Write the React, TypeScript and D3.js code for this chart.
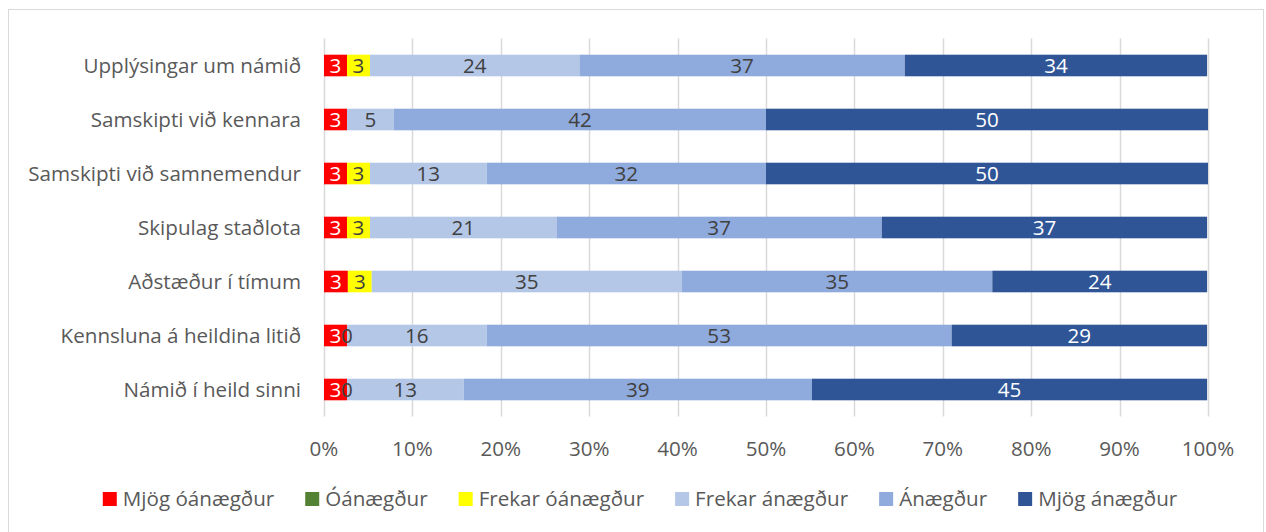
import { useEffect, useRef } from "react";
import * as d3 from "d3";

const categories = [
  "Upplýsingar um námið",
  "Samskipti við kennara",
  "Samskipti við samnemendur",
  "Skipulag staðlota",
  "Aðstæður í tímum",
  "Kennsluna á heildina litið",
  "Námið í heild sinni",
];

const seriesNames = [
  "Mjög óánægður",
  "Óánægður",
  "Frekar óánægður",
  "Frekar ánægður",
  "Ánægður",
  "Mjög ánægður",
];

const seriesColors = ["#ff0000", "#548235", "#ffff00", "#b4c7e7", "#8faadc", "#2f5597"];
const labelColors = ["#ffffff", "#ffffff", "#404040", "#404040", "#404040", "#ffffff"];

// percentages per series, one value per category (null = no data)
const mjogOanaegdur = [2.6, 2.6, 2.6, 2.6, 2.7, 2.6, 2.6];
const oanaegdur: (number | null)[] = [null, null, null, null, null, null, null];
const frekarOanaegdur: (number | null)[] = [2.6, null, 2.6, 2.6, 2.7, 0, 0];
const frekarAnaegdur = [23.7, 5.3, 13.2, 21.1, 35.1, 15.8, 13.2];
const anaegdur = [36.8, 42.1, 31.6, 36.8, 35.1, 52.6, 39.4];
const mjogAnaegdur = [34.2, 50.0, 50.0, 36.8, 24.3, 28.9, 44.7];

const series = [mjogOanaegdur, oanaegdur, frekarOanaegdur, frekarAnaegdur, anaegdur, mjogAnaegdur];
const xTicks = [0, 10, 20, 30, 40, 50, 60, 70, 80, 90, 100];

const FONT = "'Open Sans', sans-serif";
const FS = 20.6;

export default function App() {
  const svgRef = useRef<SVGSVGElement>(null);

  useEffect(() => {
    if (!svgRef.current) return;
    const svg = d3.select(svgRef.current);
    svg.selectAll("*").remove();

    const x = d3.scaleLinear().domain([0, 100]).range([324, 1208]);
    const y = d3.scaleBand<string>().domain(categories).range([38.5, 416.5]).paddingInner(0.6).paddingOuter(0.3);

    // frame
    svg.append("rect").attr("x", 8.5).attr("y", 9.5).attr("width", 1255).attr("height", 530)
      .attr("fill", "#fff").attr("stroke", "#d9d9d9");

    // gridlines
    svg.append("g").selectAll("line").data(xTicks).join("line")
      .attr("x1", (d) => Math.round(x(d)) + 0.5).attr("x2", (d) => Math.round(x(d)) + 0.5)
      .attr("y1", 38.5).attr("y2", 416.5)
      .attr("stroke", "#d9d9d9").attr("stroke-width", 1.5);

    svg.append("g").selectAll("text").data(xTicks).join("text")
      .attr("x", (d) => x(d)).attr("y", 449).attr("dy", "0.35em")
      .attr("text-anchor", "middle").attr("fill", "#595959")
      .attr("font-family", FONT).attr("font-size", FS)
      .text((d) => d + "%");

    // category labels
    svg.append("g").selectAll("text").data(categories).join("text")
      .attr("x", 301).attr("y", (d) => y(d)! + y.bandwidth() / 2).attr("dy", "0.35em")
      .attr("text-anchor", "end").attr("fill", "#595959")
      .attr("font-family", FONT).attr("font-size", FS)
      .text((d) => d);

    // stacked bars
    const cum = categories.map(() => 0);
    const segs: { cat: string; s: number; x0: number; x1: number; v: number }[] = [];
    series.forEach((vals, s) => {
      vals.forEach((v, i) => {
        if (v === null) return;
        segs.push({ cat: categories[i], s, x0: cum[i], x1: cum[i] + v, v });
        cum[i] += v;
      });
    });

    svg.append("g").selectAll("rect").data(segs.filter((d) => d.v > 0)).join("rect")
      .attr("x", (d) => x(d.x0)).attr("width", (d) => x(d.x1) - x(d.x0))
      .attr("y", (d) => y(d.cat)!).attr("height", y.bandwidth())
      .attr("fill", (d) => seriesColors[d.s]);

    svg.append("g").selectAll("text").data(segs).join("text")
      .attr("x", (d) => x((d.x0 + d.x1) / 2)).attr("y", (d) => y(d.cat)! + y.bandwidth() / 2)
      .attr("dy", "0.35em").attr("text-anchor", "middle")
      .attr("fill", (d) => labelColors[d.s])
      .attr("font-family", FONT).attr("font-size", FS)
      .text((d) => d3.format(".0f")(d.v));

    // legend
    const legend = svg.append("g");
    const items = legend.selectAll("g").data(seriesNames).join("g");
    items.append("rect").attr("width", 14).attr("height", 14).attr("y", -7)
      .attr("fill", (_, i) => seriesColors[i]);
    items.append("text").attr("x", 20).attr("dy", "0.35em").attr("fill", "#595959")
      .attr("font-family", FONT).attr("font-size", FS).text((d) => d);
    let pos = 0;
    const offsets: number[] = [];
    items.each(function () {
      offsets.push(pos);
      const t = (this as SVGGElement).querySelector("text") as SVGTextElement;
      pos += 20 + t.getComputedTextLength() + 31;
    });
    const total = pos - 31;
    const start = 640 - total / 2;
    items.attr("transform", (_, i) => `translate(${start + offsets[i]},499)`);
  }, []);

  return (
    <svg ref={svgRef} width={1266} height={532}
      style={{ position: "fixed", left: 0, top: 0, background: "#fff" }} />
  );
}
